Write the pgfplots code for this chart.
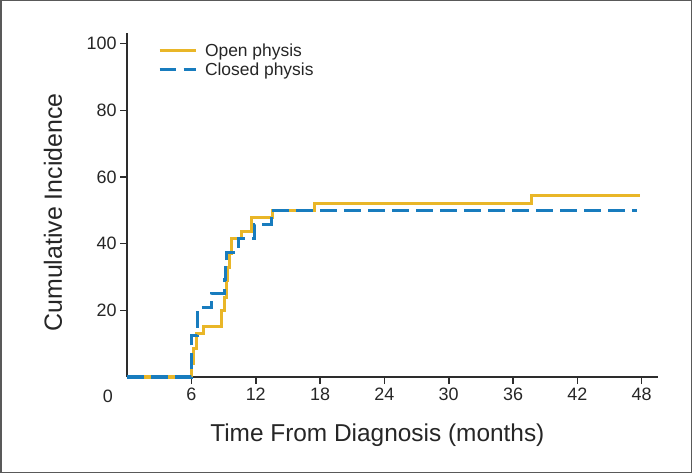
\documentclass[border=0pt]{standalone}
\usepackage{pgfplots}
\pgfplotsset{compat=1.18}
\usepackage{fontspec}
\setmainfont{Liberation Sans}
\definecolor{openc}{RGB}{233,182,40}
\definecolor{closedc}{RGB}{24,124,190}
\definecolor{axc}{RGB}{45,45,45}
\begin{document}
\begin{tikzpicture}
\useasboundingbox (0,0) rectangle (692bp,473bp);
\draw[line width=1.5bp, draw=gray!70!black] (0.75bp,0.75bp) rectangle (691.25bp,472.25bp);
\begin{axis}[
  at={(127.1bp,96bp)}, anchor=south west,
  scale only axis, width=531.3bp, height=344.3bp,
  xmin=0, xmax=49.56, ymin=0, ymax=103.3,
  axis x line*=bottom, axis y line*=left,
  axis line style={line width=2bp, draw=axc},
  xtick={6,12,...,48}, ytick={20,40,...,100},
  tick align=outside, major tick length=7bp,
  tick style={line width=1.6bp, draw=axc},
  /pgf/number format/assume math mode=true,
  ticklabel style={font=\fontsize{18}{21}\selectfont, text=black!85},
  xlabel={Time From Diagnosis (months)},
  xlabel style={at={(axis description cs:0.471,-0.168)}, anchor=center, font=\fontsize{24.5}{28}\selectfont, text=black!85},
  ylabel={Cumulative Incidence},
  ylabel style={at={(axis description cs:-0.1395,0.478)}, anchor=center, font=\fontsize{25}{28}\selectfont, text=black!85},
  clip=false,
  legend style={at={(axis description cs:0.058,0.975)}, anchor=north west, draw=none, fill=none,
    font=\fontsize{17.5}{20}\selectfont, text=black!85, row sep=1bp, inner sep=0pt, nodes={inner sep=2bp}},
  legend cell align=left,
  legend image code/.code={\draw[#1, line width=2.8bp] (0bp,0bp) -- (36bp,0bp); \path (42bp,0bp);},
]
\addplot[const plot, color=openc, line width=3bp] coordinates {
 (0,0) (6.05,4) (6.15,8.5) (6.45,13.1) (7.1,15.3) (8.85,20) (9.05,24) (9.25,29)
 (9.4,33) (9.55,37) (9.7,41.5) (10.65,43.6) (11.6,48) (13.6,50) (17.45,52.2)
 (37.75,54.5) (47.8,54.5)};
\addlegendentry{Open physis}
\addplot[const plot, color=closedc, line width=3bp, dash pattern=on 16.7bp off 7.3bp] coordinates {
 (0,0) (6.0,12.5) (6.6,20.8) (7.9,25) (9.05,29.2) (9.15,33.3) (9.25,37.5)
 (10.35,41.7) (11.85,45.8) (13.5,50) (47.6,50)};
\addlegendentry{Closed physis}
\node[font=\fontsize{18}{21}\selectfont, text=black!85, anchor=center] at (axis cs:-1.8,0) [yshift=-19bp] {0};
\end{axis}
\end{tikzpicture}
\end{document}
